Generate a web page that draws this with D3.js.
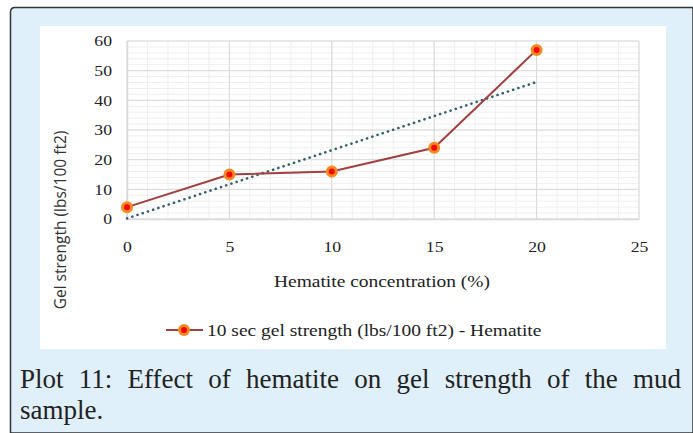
<!DOCTYPE html>
<html>
<head>
  <title>Plot 11</title>
  <style>
    body { margin: 0; background: #fff; }
    .serif { font-family: "Liberation Serif", serif; fill: #222; }
  </style>
</head>
<body>
  <svg id="chart" width="693" height="433"></svg>

  <script src="https://d3js.org/d3.v7.min.js"></script>
  <script>
    // data
    const concentration = [0, 5, 10, 15, 20];
    const gelStrength = [4, 15, 16, 24, 57];
    const xTicks = [0, 5, 10, 15, 20, 25];
    const yTicks = [0, 10, 20, 30, 40, 50, 60];
    const seriesName = "10 sec gel strength (lbs/100 ft2) - Hematite";
    const captionWords = "Plot 11: Effect of hematite on gel strength of the mud".split(" ");

    const svg = d3.select("#chart");
    const stretch = 1.18; // source figure is a little widened

    // background panel with border
    svg.append("path")
       .attr("d", "M10.5,433 L10.5,12 Q10.5,7.5 15,7.5 L693,7.5 L693,433 Z")
       .attr("fill", "#dff0fb")
       .attr("stroke", "#333")
       .attr("stroke-width", 1.5);

    // white chart area
    svg.append("rect")
       .attr("x", 40).attr("y", 26)
       .attr("width", 626).attr("height", 323)
       .attr("fill", "#fff");

    const plot = { left: 127, right: 639, top: 41, bottom: 219 };

    const x = d3.scaleLinear().domain([0, 25]).range([plot.left, plot.right]);
    const y = d3.scaleLinear().domain([0, 60]).range([plot.bottom, plot.top]);

    // minor gridlines
    const g = svg.append("g");
    g.selectAll(".vminor")
     .data(d3.range(0, 26, 1))
     .enter().append("line")
     .attr("x1", d => x(d)).attr("x2", d => x(d))
     .attr("y1", plot.top).attr("y2", plot.bottom)
     .attr("stroke", "#efefef").attr("stroke-width", 1);
    g.selectAll(".hminor")
     .data(d3.range(0, 61, 2))
     .enter().append("line")
     .attr("x1", plot.left).attr("x2", plot.right)
     .attr("y1", d => y(d)).attr("y2", d => y(d))
     .attr("stroke", "#efefef").attr("stroke-width", 1);

    // major gridlines
    g.selectAll(".vmajor")
     .data(xTicks)
     .enter().append("line")
     .attr("x1", d => x(d)).attr("x2", d => x(d))
     .attr("y1", plot.top).attr("y2", plot.bottom)
     .attr("stroke", "#d9d9d9").attr("stroke-width", 1);
    g.selectAll(".hmajor")
     .data(yTicks)
     .enter().append("line")
     .attr("x1", plot.left).attr("x2", plot.right)
     .attr("y1", d => y(d)).attr("y2", d => y(d))
     .attr("stroke", "#d9d9d9").attr("stroke-width", 1);

    // axes (labels only)
    const xAxis = d3.axisBottom(x).tickValues(xTicks).tickSize(0).tickPadding(22);
    const yAxis = d3.axisLeft(y).tickValues(yTicks).tickSize(0).tickPadding(15 / stretch);

    svg.append("g")
       .attr("transform", `translate(0, ${plot.bottom})`)
       .call(xAxis)
       .call(a => a.select(".domain").attr("stroke", "#d9d9d9").attr("stroke-width", 1.5))
       .selectAll("text").attr("class", "serif").attr("font-size", 15)
       .attr("transform", `scale(${stretch},1)`);

    svg.append("g")
       .attr("transform", `translate(${plot.left}, 0)`)
       .call(yAxis)
       .call(a => a.select(".domain").attr("stroke", "#d9d9d9").attr("stroke-width", 1.5))
       .selectAll("text").attr("class", "serif").attr("font-size", 15)
       .attr("transform", `scale(${stretch},1)`);

    // trendline (linear least squares of the series)
    const mx = d3.mean(concentration), my = d3.mean(gelStrength);
    const slope = d3.sum(concentration, (v, i) => (v - mx) * (gelStrength[i] - my)) /
                  d3.sum(concentration, v => (v - mx) * (v - mx));
    const intercept = my - slope * mx;
    const xMin = d3.min(concentration), xMax = d3.max(concentration);

    svg.append("line")
       .attr("x1", x(xMin)).attr("y1", y(intercept + slope * xMin))
       .attr("x2", x(xMax)).attr("y2", y(intercept + slope * xMax))
       .attr("stroke", "#31616e")
       .attr("stroke-width", 2.6)
       .attr("stroke-linecap", "round")
       .attr("stroke-dasharray", "0.1 5.4");

    // series line
    const points = concentration.map((c, i) => [c, gelStrength[i]]);
    svg.append("path")
       .datum(points)
       .attr("fill", "none")
       .attr("stroke", "#a1403e")
       .attr("stroke-width", 2)
       .attr("d", d3.line().x(d => x(d[0])).y(d => y(d[1])));

    // markers
    svg.selectAll(".marker")
       .data(points)
       .enter().append("circle")
       .attr("cx", d => x(d[0])).attr("cy", d => y(d[1]))
       .attr("r", 4.5)
       .attr("fill", "#ff0000")
       .attr("stroke", "#f58a1f")
       .attr("stroke-width", 3);

    // axis titles
    svg.append("text")
       .attr("class", "serif")
       .attr("transform", `translate(382, 287) scale(${stretch},1)`)
       .attr("text-anchor", "middle")
       .attr("font-size", 16.5)
       .text("Hematite concentration (%)");

    svg.append("text")
       .attr("transform", "translate(66, 220) rotate(-90)")
       .attr("text-anchor", "middle")
       .attr("font-family", "Open Sans, sans-serif")
       .attr("font-size", 15.5)
       .attr("fill", "#333")
       .text("Gel strength (lbs/100 ft2)");

    // legend
    const legend = svg.append("g").attr("transform", "translate(0, 330)");
    legend.append("line")
          .attr("x1", 166).attr("x2", 203).attr("y1", 0).attr("y2", 0)
          .attr("stroke", "#a1403e").attr("stroke-width", 2);
    legend.append("circle")
          .attr("cx", 184).attr("cy", 0).attr("r", 4.5)
          .attr("fill", "#ff0000").attr("stroke", "#f58a1f").attr("stroke-width", 3);
    legend.append("text")
          .attr("class", "serif")
          .attr("transform", `translate(207, 5.5) scale(${stretch},1)`)
          .attr("font-size", 16.5)
          .text(seriesName);

    // caption, justified on the first line
    const capLeft = 20, capRight = 681, capSize = 27;
    const cap = svg.append("g").attr("class", "serif").attr("font-size", capSize);
    const words = cap.selectAll(".w").data(captionWords).enter().append("text")
                     .attr("y", 388).text(d => d);
    const widths = [];
    words.each(function () { widths.push(this.getComputedTextLength()); });
    const gap = (capRight - capLeft - d3.sum(widths)) / (captionWords.length - 1);
    let cx = capLeft;
    words.attr("x", (d, i) => { const p = cx; cx += widths[i] + gap; return p; });
    cap.append("text").attr("x", capLeft).attr("y", 419).text("sample.");
  </script>
</body>
</html>
